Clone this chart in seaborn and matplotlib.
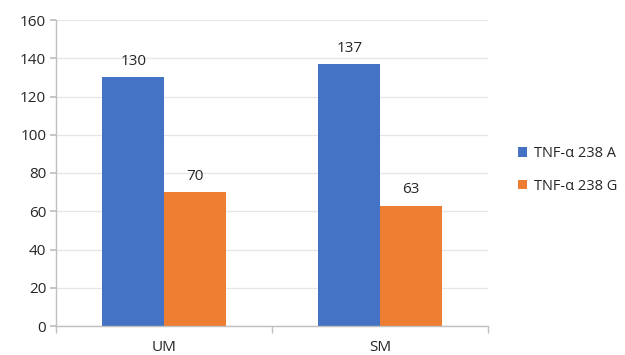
import matplotlib
matplotlib.use("Agg")
import matplotlib.pyplot as plt
import seaborn as sns
import pandas as pd
from matplotlib.patches import Patch

categories = ["UM", "SM"]
series_names = ["TNF-α 238 A", "TNF-α 238 G"]
values_a = [130, 137]
values_g = [70, 63]
colors = ["#4472C4", "#ED7D31"]

df = pd.DataFrame({
    "cat": categories * 2,
    "series": [series_names[0]] * 2 + [series_names[1]] * 2,
    "val": values_a + values_g,
})

sns.set_theme(style="white")
plt.rcParams["font.family"] = ["Open Sans", "DejaVu Sans"]

fig = plt.figure(figsize=(6.25, 3.55), dpi=100)
ax = fig.add_axes([56/625, 29/355, 432/625, 306/355])

sns.barplot(data=df, x="cat", y="val", hue="series", palette=colors,
            width=0.57, ax=ax, legend=False, saturation=1, gap=0,
            edgecolor="none")

for c in ax.containers:
    ax.bar_label(c, padding=6, fontsize=11, color="#262626")

ax.set_xlim(-0.5, 1.5)
ax.set_ylim(0, 160)
ax.set_yticks(range(0, 161, 20))
ax.set_xlabel("")
ax.set_ylabel("")
ax.yaxis.grid(True, color="#E6E6E6", linewidth=0.9)
ax.set_axisbelow(True)
for s in ["top", "right"]:
    ax.spines[s].set_visible(False)
for s in ["left", "bottom"]:
    ax.spines[s].set_color("#BFBFBF")
    ax.spines[s].set_linewidth(1.0)

ax.tick_params(axis="y", which="major", length=4, color="#BFBFBF",
               labelsize=11, labelcolor="#262626", pad=3, left=True)
ax.tick_params(axis="x", which="major", length=0, pad=10,
               labelsize=11, labelcolor="#262626")
ax.set_xticks([-0.5, 0.5, 1.5], minor=True)
ax.tick_params(axis="x", which="minor", length=5, color="#BFBFBF", bottom=True)

handles = [Patch(facecolor=colors[i], edgecolor="none", label=series_names[i])
           for i in range(2)]
fig.legend(handles=handles, loc="center left", bbox_to_anchor=(505/625, 185/355),
           frameon=False, fontsize=10.5, handlelength=0.6, handleheight=0.6,
           handletextpad=0.5, labelspacing=1.2, labelcolor="#262626")

fig.savefig("out.png", dpi=100)
